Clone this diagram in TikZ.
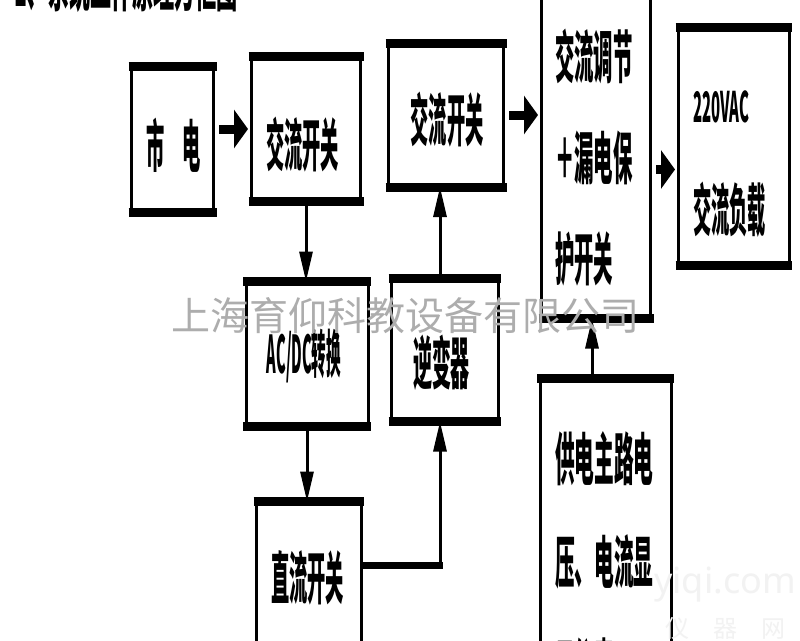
\documentclass[tikz,border=0pt]{standalone}
\usepackage{fontspec}
\newfontfamily\cjk{Noto Sans CJK SC}
\newfontfamily\latf{Noto Sans}
\usetikzlibrary{arrows.meta}
\tikzset{
  blk/.style={draw, line width=3pt, inner sep=0pt},
  bar/.style={line width=9pt, shorten <=-1.5pt, shorten >=-1.5pt},
  txt/.style={font=\cjk\bfseries\fontsize{57}{101}\selectfont, xscale=#1, inner sep=0pt, align=left},
  txt/.default=0.32,
  fat/.style={line width=9pt, -{Triangle[length=14pt,width=38pt]}, shorten <=4pt, shorten >=2pt},
  arr/.style={line width=3pt, -{Triangle[length=30pt,width=13pt]}},
  bus/.style={line width=7pt},
  wm/.style={font=\cjk\fontsize{39}{39}\selectfont, text=black!32, inner sep=0pt}
}
\begin{document}
\begin{tikzpicture}[x=1pt, y=-1pt]
  \useasboundingbox (0,0) rectangle (800,640);
  \fill[white] (0,0) rectangle (800,640);
  \node[blk, minimum width=82pt, minimum height=143pt] (sd) at (172.5,139) {};
  \node[blk, minimum width=109pt, minimum height=142pt] (kgA) at (306,129) {};
  \node[blk, minimum width=115pt, minimum height=141pt] (kgB) at (446,115) {};
  \node[blk, minimum width=109pt, minimum height=347pt] (tj) at (596,143.5) {};
  \node[blk, minimum width=110.5pt, minimum height=235pt] (fz) at (733.75,146.5) {};
  \node[blk, minimum width=122pt, minimum height=142pt] (zh) at (307,354) {};
  \node[blk, minimum width=106.5pt, minimum height=140pt] (nb) at (444.75,350) {};
  \node[blk, minimum width=104.5pt, minimum height=197pt] (zl) at (308.75,601.5) {};
  \node[blk, minimum width=131pt, minimum height=380pt] (xs) at (605.5,570) {};
  \foreach \n in {sd,kgA,kgB,tj,fz,zh,nb,zl,xs} {
    \draw[bar] (\n.north west) -- (\n.north east);
    \draw[bar] (\n.south west) -- (\n.south east);
  }
  \node[txt=0.37, anchor=base west] (ttl) at (14,6) {1、系统工作原理方框图};
  \node[txt] (sd-t) at (173.5,145) {市　电};
  \node[txt] (kgA-t) at (302.5,145) {交流开关};
  \node[txt] (kgB-t) at (447,120) {交流开关};
  \node[txt=0.34, anchor=west] (tj-t) at (555,158) {交流调节\\＋漏电保\\护开关};
  \node[txt=0.355, font=\cjk\bfseries\fontsize{42}{42}\selectfont, anchor=west] (fz-a) at (693,107) {220VAC};
  \node[txt, anchor=west] (fz-t) at (693,210) {交流负载};
  \node[txt=0.28, font=\cjk\bfseries\fontsize{52}{52}\selectfont] (zh-t) at (304,356) {AC/DC转换};
  \node[txt=0.333] (nb-t) at (441.5,363) {逆变器};
  \node[txt] (zl-t) at (307.5,578) {直流开关};
  \node[txt=0.345, font=\cjk\bfseries\fontsize{57}{103}\selectfont, anchor=west] (xs-t) at (555,562) {供电主路电\\压、电流显\\示仪表};
  \draw[fat] (sd.east |- kgA.west) -- (kgA.west);
  \draw[fat] (kgB.east) -- (kgB.east -| tj.west);
  \draw[fat] ([yshift=-26pt]tj.east) -- ([yshift=-26pt]tj.east -| fz.west);
  \draw[arr] (kgA.south) -- (kgA.south |- zh.north);
  \draw[arr] (zh.south) -- (zh.south |- zl.north);
  \coordinate (jn) at (440,565);
  \draw[bus] (zl.east |- jn) -- ([xshift=3pt]jn);
  \draw[arr] (jn) -- (jn |- nb.south);
  \draw[arr] (jn |- nb.north) -- (jn |- kgB.south);
  \coordinate (up) at (592,377);
  \draw[arr] (up |- xs.north) -- (up |- tj.south);
  \node[wm] (wm) at (405,316) {上海育仰科教设备有限公司};
  \node[font=\latf\bfseries\fontsize{36}{36}\selectfont, text=black!5, inner sep=0pt] (yq) at (725,585) {yiqi.com};
  \node[font=\cjk\fontsize{24}{24}\selectfont, text=black!5, inner sep=0pt] (yq-c) at (725,628) {仪　器　网};
\end{tikzpicture}
\end{document}
